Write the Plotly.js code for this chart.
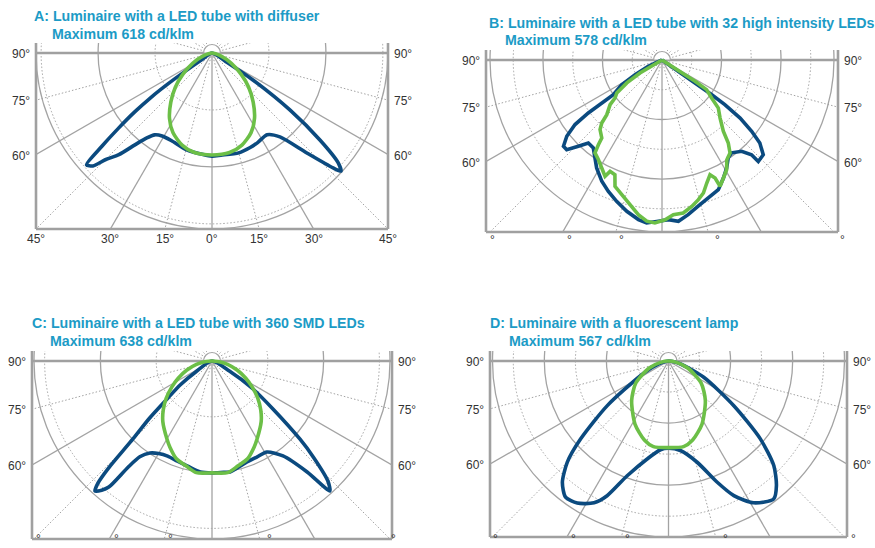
<!DOCTYPE html>
<html><head><meta charset="utf-8">
<script src="https://cdn.plot.ly/plotly-3.0.1.min.js"></script>
<style>html,body{margin:0;padding:0;background:#fff}#chart{width:875px;height:548px}</style>
</head><body><div id="chart"></div>
<script>
// ---------------- DATA ----------------
const panelTitles = [
  "A: Luminaire with a LED tube with diffuser",
  "B: Luminaire with a LED tube with 32 high intensity LEDs",
  "C: Luminaire with a LED tube with 360 SMD LEDs",
  "D: Luminaire with a fluorescent lamp"
];
const panelMaxima = [618, 578, 638, 567];           // cd/klm
const sideLabels = ["90°", "75°", "60°"];
const sideLabelAngles = [90, 75, 60];
const bottomLabelsA = ["45°", "30°", "15°", "0°", "15°", "30°", "45°"];
const bottomLabelAnglesA = [-45, -30, -15, 0, 15, 30, 45];
const ringsAC = [200, 400, 600];
const ringsBD = [100, 200, 300, 400, 500];
const rayAngles = [-165,-150,-135,-120,-105,-75,-60,-45,-30,-15,0,15,30,45,60,75,105,120,135,150,165];

// angles in degrees from nadir (negative = left), intensities in cd/klm
const blueAnglesA = [-62,-56.5,-55.7,-55,-54,-52.7,-51.2,-49.7,-48.3,-46.5,-45,-42.5,-40,-37.5,-35,-31,-25,-15,-5,0,5,15,22,27,34,39,43.5,46.5,47.5,49,51.1,53.8,56.6,58,61];
const blueValuesA = [0,42,116,186,263,340,421,509,590,576,530,484,421,376,351,340,339,351,358,362,360,363,358,353,346,379,484,586,614,586,488,340,172,63,0];
const greenAnglesA = [-90,-72,-62,-54,-47,-40,-33,-26,-18,-10,0,10,18,26,33,40,47,54,62,72,90];
const greenValuesA = [0,32,77,126,176,225,274,312,340,355,358,355,340,312,274,225,176,126,77,32,0];

const blueAnglesB = [-75,-65.3,-61.4,-58.5,-54.5,-54.5,-54.3,-53.4,-51.3,-48.8,-46.7,-44.1,-41.6,-38,-34.4,-31.2,-26.4,-22.2,-17.8,-13.1,-8.4,-5.4,-1.3,2.3,5.8,9.6,13.9,18.5,23.5,27.5,30.9,34.1,36.9,41.1,43.4,43.5,46.9,49.7,51.5,53.4,54.6,55.1,55.1,55.3,57.5,65];
const blueValuesB = [0,51,103,159,201,249,305,364,410,440,440,404,373,375,399,424,455,477,499,522,542,550,542,537,545,527,506,489,475,447,423,397,390,407,438,470,466,431,385,327,259,204,135,67,19,0];
const greenAnglesB = [-70,-58.5,-59.4,-56.9,-53.9,-51,-49.3,-45.3,-43.7,-41.7,-37.7,-36.9,-35.8,-32.6,-29.2,-26.1,-25,-22.3,-20.4,-16.7,-12.5,-8.7,-5.4,-2.5,1.1,4.2,7.9,11.5,14.6,17.3,20,22.7,24.2,24.7,27.5,30.5,33,36.2,38.6,40.7,45,49.5,52.6,56.4,57.2,56.6,59.6,70];
const greenValuesB = [0,41,86,141,188,203,230,261,293,313,331,356,385,397,416,435,413,417,453,472,498,526,544,548,537,521,519,502,485,468,440,418,435,467,447,428,400,387,357,316,276,249,210,180,132,79,31,0];

const blueAnglesC = [-62,-56,-53,-49.8,-47.5,-45.4,-44,-43,-42,-40.5,-39.3,-38.3,-37,-34,-30,-25,-19,-13,-6,0,6,9.2,19.1,25,31.1,36.8,40.6,42.2,44,46.5,48.4,51.8,55.7,60,64];
const blueValuesC = [0,72,143,211,305,398,534,600,627,609,584,484,430,398,383,376,380,387,400,401,401,403,383,380,381,425,524,629,598,502,421,278,178,72,0];
const greenAnglesC = [-90,-85,-78,-70,-63,-57,-51,-45,-39,-30,-26,-20,-14,-8,0,8,14,20,26,30,39,45,51,57,63,70,78,85,90];
const greenValuesC = [0,22,57,97,136,172,211,247,280,323,344,373,387,404,401,404,387,373,344,323,280,247,211,172,136,97,57,22,0];

const blueAnglesD = [-80,-70,-62.3,-53.9,-48.4,-45,-41.2,-37.1,-32.7,-27.7,-24.5,-19.8,-12.3,-5.2,0,7.6,15.8,21.9,25.9,31,37.3,40.9,45.2,49.7,55.6,65.2,76,85];
const blueValuesD = [0,48,102,244,379,461,519,550,544,516,477,393,323,287,281,291,339,421,482,533,559,531,478,388,255,125,40,0];
const greenAnglesD = [-90,-80,-70,-56,-43,-28,-17,-10,0,10,17,28,43,56,70,80,90];
const greenValuesD = [0,26,66,127,174,230,266,280,279,280,266,230,174,127,66,26,0];

const degreeMarksB = [493, 569, 621, 717, 842];
const degreeMarksC = [38, 117, 170, 269, 393];
const degreeMarksD = [495, 573, 627, 725, 853];

// ---------------- LAYOUT GEOMETRY (pixels) ----------------
const W = 875, HH = 548;
const frames = [
  {cx:212, left:36, right:388, top:53, bottom:229, band:10, t1:[32,16], t2:[50,33.5], degY:null},
  {cx:662, left:486, right:838, top:60, bottom:232, band:10, t1:[487,22.5], t2:[503,40.5], degY:240},
  {cx:212, left:32, right:392, top:361, bottom:539, band:10, t1:[30,322.5], t2:[48,340.5], degY:548},
  {cx:668.5, left:490, right:847, top:361, bottom:537, band:10, t1:[488,322.5], t2:[507,340.5], degY:548}
];
const curves = [
  [[blueAnglesA, blueValuesA, 'spline'], [greenAnglesA, greenValuesA, 'spline']],
  [[blueAnglesB, blueValuesB, 'linear'], [greenAnglesB, greenValuesB, 'linear']],
  [[blueAnglesC, blueValuesC, 'spline'], [greenAnglesC, greenValuesC, 'spline']],
  [[blueAnglesD, blueValuesD, 'spline'], [greenAnglesD, greenValuesD, 'spline']]
];
const ringSets = [ringsAC, ringsBD, ringsAC, ringsBD];
const degreeMarks = [null, degreeMarksB, degreeMarksC, degreeMarksD];

const BLUE = '#0b4a7f', GREEN = '#6cbf47', GRID = '#a3a3a3', FRAME = '#a0a0a0', TITLE = '#1c9bc6', LABEL = '#333333';
const rad = d => d * Math.PI / 180;
const px = x => x / W, py = y => 1 - y / HH;

const data = [], shapes = [], annotations = [];
const layout = {
  width: W, height: HH, margin: {l:0, r:0, t:0, b:0},
  paper_bgcolor: '#fff', plot_bgcolor: 'rgba(0,0,0,0)', showlegend: false,
  font: {family: '"Liberation Sans", Arial, sans-serif', size: 12, color: LABEL},
  shapes: shapes, annotations: annotations
};

frames.forEach((f, i) => {
  const M = panelMaxima[i];
  const k = (f.bottom - f.top) / M;          // px per cd/klm
  const xa = i === 0 ? 'x' : 'x' + (i + 1), ya = i === 0 ? 'y' : 'y' + (i + 1);
  const xkey = i === 0 ? 'xaxis' : 'xaxis' + (i + 1), ykey = i === 0 ? 'yaxis' : 'yaxis' + (i + 1);
  layout[xkey] = {domain: [px(f.left), px(f.right)], range: [-(f.cx - f.left) / k, (f.right - f.cx) / k],
    visible: false, fixedrange: true, anchor: ya};
  layout[ykey] = {domain: [py(f.bottom), py(f.top - f.band)], range: [-M, f.band / k],
    visible: false, fixedrange: true, anchor: xa};

  // rings
  const rings = ringSets[i];
  rings.forEach((r, j) => {
    shapes.push({type:'circle', xref:xa, yref:ya, x0:-r, x1:r, y0:-r, y1:r, layer:'below',
      line:{color: GRID, width: j % 2 === 0 ? 1 : 1.3, dash: j % 2 === 0 ? '1.5px,2px' : 'solid'}});
  });
  shapes.push({type:'circle', xref:xa, yref:ya, x0:-M, x1:M, y0:-M, y1:M, layer:'below',
    line:{color: GRID, width: 1.3}});
  // rays
  const L = 3 * M;
  rayAngles.forEach(a => {
    const solid = Math.abs(a) < 90 && a % 30 === 0;
    shapes.push({type:'line', xref:xa, yref:ya, x0:0, y0:0, x1: L * Math.sin(rad(a)), y1: -L * Math.cos(rad(a)),
      layer:'below', line:{color: GRID, width: solid ? 1.3 : 1, dash: solid ? 'solid' : '1.5px,2px'}});
  });
  // small semicircle at the luminaire position
  const r0 = 8.5 / k, c = 0.5523;
  shapes.push({type:'path', xref:xa, yref:ya, layer:'below', fillcolor:'#ffffff',
    path:`M ${-r0},0 C ${-r0},${c*r0} ${-c*r0},${r0} 0,${r0} C ${c*r0},${r0} ${r0},${c*r0} ${r0},0 Z`,
    line:{color: GRID, width: 1.2}});
  // frame
  const fl = {color: FRAME, width: 2.6};
  shapes.push({type:'line', xref:'paper', yref:'paper', x0:px(f.left), x1:px(f.right), y0:py(f.top), y1:py(f.top), line:fl, layer:'below'});
  shapes.push({type:'line', xref:'paper', yref:'paper', x0:px(f.left), x1:px(f.right), y0:py(f.bottom), y1:py(f.bottom), line:fl, layer:'below'});
  shapes.push({type:'line', xref:'paper', yref:'paper', x0:px(f.left), x1:px(f.left), y0:py(f.bottom), y1:py(f.top - f.band), line:fl, layer:'below'});
  shapes.push({type:'line', xref:'paper', yref:'paper', x0:px(f.right), x1:px(f.right), y0:py(f.bottom), y1:py(f.top - f.band), line:fl, layer:'below'});

  // curves
  curves[i].forEach((cv, j) => {
    const [ang, val, shape] = cv;
    data.push({type:'scatter', mode:'lines', xaxis:xa, yaxis:ya, hoverinfo:'skip',
      x: ang.map((a, n) => val[n] * Math.sin(rad(a))),
      y: ang.map((a, n) => -val[n] * Math.cos(rad(a))),
      line:{color: j === 0 ? BLUE : GREEN, width: 3.6, shape: shape, smoothing: 0.7}});
  });

  // titles
  annotations.push({text:'<b>' + panelTitles[i] + '</b>', xref:'paper', yref:'paper', x:px(f.t1[0]), y:py(f.t1[1]),
    xanchor:'left', yanchor:'middle', showarrow:false, font:{size:14.2, color:TITLE}});
  annotations.push({text:'<b>Maximum ' + panelMaxima[i] + ' cd/klm</b>', xref:'paper', yref:'paper', x:px(f.t2[0]), y:py(f.t2[1]),
    xanchor:'left', yanchor:'middle', showarrow:false, font:{size:14.2, color:TITLE}});

  // side labels
  const half = f.cx - f.left;
  sideLabels.forEach((s, n) => {
    const yy = f.top + half / Math.tan(rad(sideLabelAngles[n]));
    annotations.push({text:s, xref:'paper', yref:'paper', x:px(f.left - 4), y:py(yy + 1), xanchor:'right', yanchor:'middle', showarrow:false});
    annotations.push({text:s, xref:'paper', yref:'paper', x:px(f.right + 4), y:py(yy + 1), xanchor:'left', yanchor:'middle', showarrow:false});
  });
  // bottom labels
  if (i === 0) {
    bottomLabelsA.forEach((s, n) => {
      const xx = f.cx + (f.bottom - f.top) * Math.tan(rad(bottomLabelAnglesA[n]));
      annotations.push({text:s, xref:'paper', yref:'paper', x:px(xx), y:py(239), xanchor:'center', yanchor:'middle', showarrow:false});
    });
  } else {
    degreeMarks[i].forEach(xx => {
      const bottomAnchored = f.degY >= HH;
      annotations.push({text:'°', xref:'paper', yref:'paper', x:px(xx), y:py(bottomAnchored ? HH : f.degY),
        xanchor:'center', yanchor: bottomAnchored ? 'bottom' : 'middle', showarrow:false});
    });
  }
});

Plotly.newPlot('chart', data, layout, {staticPlot: true, displayModeBar: false});
</script>
</body></html>
